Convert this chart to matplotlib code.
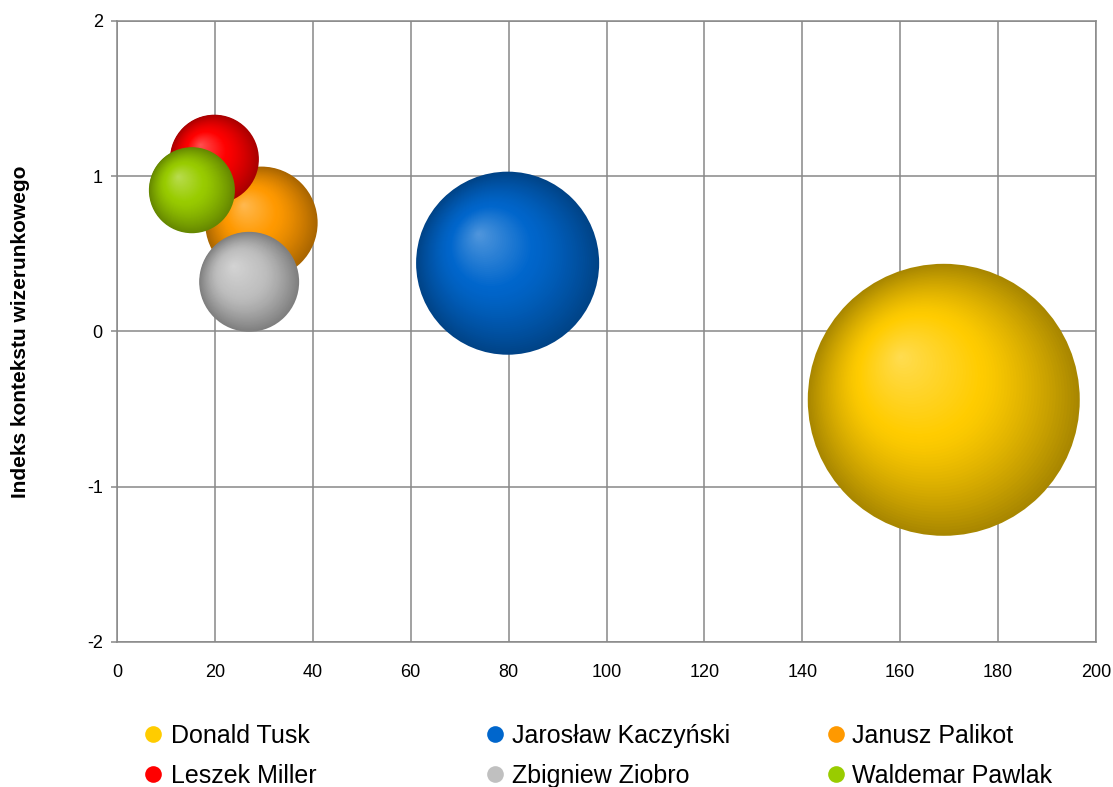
import numpy as np
import matplotlib
matplotlib.use("Agg")
import matplotlib.pyplot as plt
from matplotlib.lines import Line2D
from matplotlib.colors import to_rgb

plt.rcParams['font.family'] = ['Liberation Sans', 'DejaVu Sans']
plt.rcParams['axes.unicode_minus'] = False

# ---- data ----
names = ["Donald Tusk", "Jarosław Kaczyński", "Janusz Palikot",
         "Leszek Miller", "Zbigniew Ziobro", "Waldemar Pawlak"]
x_vals = [168.9, 79.8, 29.5, 19.9, 27.0, 15.3]
y_vals = [-0.44, 0.44, 0.70, 1.11, 0.32, 0.91]
bubble_size = [100.0, 45.3, 17.1, 10.7, 13.5, 10.0]
colors = ["#FFCC00", "#0066CC", "#FF9900", "#FF0000", "#C0C0C0", "#99CC00"]
x_ticks = [0, 20, 40, 60, 80, 100, 120, 140, 160, 180, 200]
y_ticks = [-2, -1, 0, 1, 2]
y_label = "Indeks kontekstu wizerunkowego"

W, H, DPI = 1113, 787, 100
fig = plt.figure(figsize=(W / DPI, H / DPI), dpi=DPI)
ax = fig.add_axes([117 / W, 1 - 642 / H, (1096 - 117) / W, (642 - 21) / H])
ax.set_xlim(0, 200)
ax.set_ylim(-2, 2)

grid_c = "#888888"
lw = 1.1
ax.set_xticks(x_ticks)
ax.set_yticks(y_ticks)
ax.grid(True, color=grid_c, linewidth=lw, zorder=0)
ax.set_axisbelow(True)
for sp in ax.spines.values():
    sp.set_color(grid_c)
    sp.set_linewidth(lw)
ax.tick_params(axis='x', length=0, pad=16, labelsize=13)
ax.tick_params(axis='y', direction='out', length=4.3, width=lw, color=grid_c,
               pad=6, labelsize=13)
ax.set_ylabel(y_label, fontsize=15, fontweight='bold', labelpad=41)

# ---- shaded bubbles ----
R_MAX = 136.0  # px radius of the largest bubble
N = 60


def shade(base, t):
    base = np.array(base)
    light = base + (1 - base) * 0.32
    dark = base * 0.66
    if t < 0.45:
        return light + (base - light) * (t / 0.45)
    u = (t - 0.45) / 0.55
    return base + (dark - base) * u ** 1.3


fig.canvas.draw()
smax = max(bubble_size)
for i, (xv, yv, sz, col) in enumerate(zip(x_vals, y_vals, bubble_size, colors)):
    base = to_rgb(col)
    R = R_MAX * np.sqrt(sz / smax)
    cx, cy = ax.transData.transform((xv, yv))
    off = np.array([-0.32 * R, 0.32 * R])
    pts, sizes, cols = [], [], []
    for k in range(N):
        f = k / N
        r = R * (1 - f)
        p = np.array([cx, cy]) + off * f
        pts.append(ax.transData.inverted().transform(p))
        sizes.append((2 * r * 72 / DPI) ** 2)
        cols.append(shade(base, 1 - f))
    pts = np.array(pts)
    ax.scatter(pts[:, 0], pts[:, 1], s=sizes, c=cols, linewidths=0,
               zorder=3 + i, clip_on=False)

# ---- legend (Excel-style uniform columns) ----
col_marker_x = [153, 495, 836]
col_text_x = [171, 512, 852]
row_center_y = [734, 774]
row_base_y = [743, 783]
for i, (nm, col) in enumerate(zip(names, colors)):
    r, c = divmod(i, 3)
    fig.add_artist(Line2D([col_marker_x[c] / W], [1 - row_center_y[r] / H],
                          transform=fig.transFigure, marker='o', markersize=12,
                          markerfacecolor=col, markeredgewidth=0, linestyle='none'))
    fig.text(col_text_x[c] / W, 1 - row_base_y[r] / H, nm, fontsize=18,
             ha='left', va='baseline')

fig.savefig("out.png", dpi=DPI)
